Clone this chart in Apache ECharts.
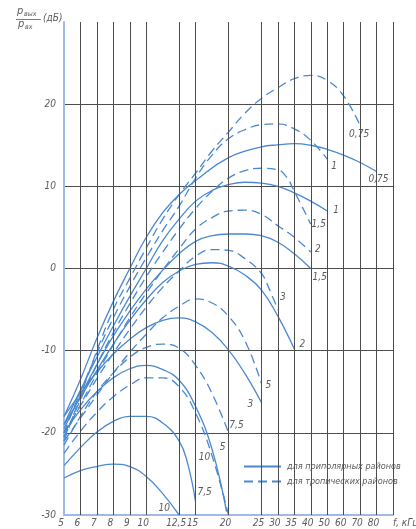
<!DOCTYPE html>
<html><head><meta charset="utf-8">
<script src="https://cdn.jsdelivr.net/npm/echarts@6/dist/echarts.min.js"></script>
<style>html,body{margin:0;padding:0;background:#fff}#c{width:416px;height:529px}</style>
</head><body><div id="c"></div><script>
// Frequency scale of the nomogram: tick frequencies (kHz) and the slot each one occupies
const freqTicks  = [5, 6, 7, 8, 9, 10, 12.5, 15, 20, 25, 30, 35, 40, 50, 60, 70, 80];
const tickSlots  = [0, 1, 2, 3, 4, 5, 7, 8, 10, 12, 13, 14, 15, 16, 17, 18, 19];
const freqLabels = ['5', '6', '7', '8', '9', '10', '12,5', '15', '20', '25', '30', '35', '40', '50', '60', '70', '80'];
const dbLabels   = [-30, -20, -10, 0, 10, 20];

// Gain curves, [f kHz, dB]; "polar" = solid, "tropic" = dashed
const polar075  = [[5,-18],[6,-13.5],[7,-8.5],[8,-4],[9,0],[10,3.8],[11.25,6.8],[12.5,9],[15,10.7],[20,13.5],[25,14.8],[30,15.05],[35,15.2],[40,15.0],[50,14.5],[60,13.8],[70,12.9],[80,11.8]];
const tropic075 = [[5,-21],[6,-15.5],[7,-10],[8,-5],[9,-1.2],[10,2.5],[11.25,6],[12.5,9],[15,11.6],[17.5,14.3],[20,16.6],[22.5,18.9],[25,20.7],[30,22],[35,23.1],[40,23.5],[50,22.9],[60,21],[70,17.4]];
const polar1    = [[5,-19],[6,-14.8],[7,-10.8],[8,-7],[9,-3.4],[10,0],[11.25,3.4],[12.5,6.0],[15,8.2],[17.5,9.5],[20,10.2],[22.5,10.5],[25,10.4],[30,10.0],[35,9.2],[40,8.2],[50,7.0]];
const tropic1   = [[5,-20],[6,-15],[7,-10.3],[8,-6],[9,-2.2],[10,1.3],[11.25,4.6],[12.5,7.6],[15,11],[17.5,13.8],[20,15.8],[22.5,16.9],[25,17.5],[30,17.6],[35,17.0],[40,15.6],[50,13.3]];
const polar15   = [[5,-19.5],[6,-15.5],[7,-11.7],[8,-8.2],[9,-5.2],[10,-2.5],[11.25,-0.2],[12.5,1.8],[15,3.3],[17.5,4.0],[20,4.2],[22.5,4.2],[25,4.0],[30,3.2],[35,1.8],[40,0]];
const tropic15  = [[5,-20.5],[6,-16],[7,-11.7],[8,-7.8],[9,-4.3],[10,-1],[11.25,2],[12.5,4.8],[15,7.3],[17.5,9.4],[20,11],[22.5,11.9],[25,12.2],[30,12.0],[32.5,11.2],[35,9.4],[40,5.4]];
const polar2    = [[5,-19],[6,-15.7],[7,-12.4],[8,-9.2],[9,-6.3],[10,-3.8],[11.25,-1.7],[12.5,-0.3],[15,0.5],[17.5,0.7],[20,0.3],[22.5,-0.8],[25,-2.6],[30,-5.8],[35,-9.8]];
const tropic2   = [[5,-20.5],[6,-16.6],[7,-12.8],[8,-9.3],[9,-6],[10,-3],[11.25,-0.2],[12.5,2.4],[15,4.8],[17.5,6.2],[20,7.0],[22.5,7.1],[25,6.6],[30,5.2],[35,3.8],[40,2.0]];
const polar3    = [[5,-18],[6,-15.2],[7,-12.6],[8,-10.4],[9,-8.6],[10,-7.2],[11.25,-6.3],[12.5,-6.0],[15,-6.5],[17.5,-7.8],[20,-9.9],[22.5,-12.8],[25,-16.3]];
const tropic3   = [[5,-20],[6,-16.7],[7,-13.4],[8,-10.3],[9,-7.4],[10,-4.7],[11.25,-2.3],[12.5,-0.3],[15,1.5],[17.5,2.3],[20,2.2],[22.5,1.2],[25,-0.6],[27.5,-2.6],[30,-5.0]];
const polar5    = [[5,-20],[6,-17.2],[7,-15],[8,-13.3],[9,-12.2],[10,-11.8],[11.25,-12.3],[12.5,-13.6],[15,-16.8],[17.5,-22],[19.7,-29.6]];
const tropic5   = [[5,-21],[6,-18.2],[7,-15.4],[8,-12.7],[9,-10.2],[10,-8],[11.25,-6],[12.5,-4.6],[15,-3.7],[17.5,-4.2],[20,-5.8],[22.5,-8.8],[25,-14]];
const polar75   = [[5,-24],[6,-21.8],[7,-19.9],[8,-18.6],[9,-18.0],[10,-18.0],[11.25,-18.8],[12.5,-21.0],[13.75,-23.6],[15,-28.4]];
const tropic75  = [[5,-21.5],[6,-18],[7,-15],[8,-12.7],[9,-10.8],[10,-9.6],[11.25,-9.2],[12.5,-9.7],[15,-11.8],[17.5,-15.2],[20,-20]];
const polar10   = [[5,-25.5],[6,-24.6],[7,-24.1],[8,-23.8],[9,-24.1],[10,-25.3],[11.25,-27.4],[12.5,-30]];
const tropic10  = [[5,-22.5],[6,-19.8],[7,-17.5],[8,-15.6],[9,-14.2],[10,-13.3],[11.25,-13.3],[12.5,-14.4],[15,-17.6],[17.5,-22.8],[20,-30]];

const POLAR = 'для приполярных районов';
const TROPIC = 'для тропических районов';

// curve table: data, dashed?, tag text, tag offset from the curve end (px)
const curves = [
  [polar075,  false, '0,75', [2, 8]],
  [tropic075, true,  '0,75', [-1, 9]],
  [polar1,    false, '1',    [9, -1]],
  [tropic1,   true,  '1',    [7, 7]],
  [polar15,   false, '1,5',  [9, 9]],
  [tropic15,  true,  '1,5',  [8, 0]],
  [polar2,    false, '2',    [8, -5]],
  [tropic2,   true,  '2',    [7, -3]],
  [polar3,    false, '3',    [-11, 2]],
  [tropic3,   true,  '3',    [5, -12]],
  [polar5,    false, '5',    [-4, -64]],
  [tropic5,   true,  '5',    [7, 2]],
  [polar75,   false, '7,5',  [9, -9]],
  [tropic75,  true,  '7,5',  [8, -7]],
  [polar10,   false, '10',   [-15, -7]],
  [tropic10,  true,  '10',   [-24, -58]]
];

function slotOf(f) {
  for (let i = 1; i < freqTicks.length; i++) {
    if (f <= freqTicks[i]) {
      const t = (f - freqTicks[i - 1]) / (freqTicks[i] - freqTicks[i - 1]);
      return tickSlots[i - 1] + t * (tickSlots[i] - tickSlots[i - 1]);
    }
  }
  return tickSlots[tickSlots.length - 1];
}

const CURVE = '#4a88d0';
const GRID = '#4d4d4d';
const AXIS = '#9dbbe6';
const TXT = '#5a5a5a';
const FONT = "'Liberation Sans Narrow', 'DejaVu Sans Condensed', 'Liberation Sans', sans-serif";

const series = curves.map(([pts, dashed, tag, off]) => ({
  type: 'line',
  name: dashed ? TROPIC : POLAR,
  data: pts.map(([f, d]) => [slotOf(f), d]),
  smooth: 0.45,
  symbol: 'none',
  lineStyle: { color: CURVE, width: 1.3, type: dashed ? [9, 5] : 'solid' },
  itemStyle: { color: CURVE },
  endLabel: {
    show: true, formatter: tag, offset: off, distance: 0,
    align: 'center', verticalAlign: 'middle',
    color: TXT, fontStyle: 'italic', fontSize: 10, fontFamily: FONT
  },
  z: 3
}));

// vertical grid lines at every frequency tick plus the right frame
const vLines = tickSlots.slice(1).concat([20]);
series.push({
  type: 'line', name: 'grid', data: [], silent: true, z: 1,
  markLine: {
    silent: true, symbol: 'none', label: { show: false },
    lineStyle: { color: GRID, width: 1, type: 'solid' },
    data: vLines.map(s => ({ xAxis: s }))
  }
});

const chart = echarts.init(document.getElementById('c'), null, { renderer: 'canvas' });
chart.setOption({
  animation: false,
  backgroundColor: '#fff',
  grid: { left: 64, right: 23, top: 22, bottom: 14, outerBoundsMode: 'none', containLabel: false },
  xAxis: {
    type: 'value', min: 0, max: 20, interval: 1,
    name: 'f, кГц', nameLocation: 'end', nameGap: 0,
    nameTextStyle: { color: TXT, fontStyle: 'italic', fontSize: 10, fontFamily: FONT,
                     align: 'left', verticalAlign: 'top', padding: [3, 0, 0, 0] },
    axisLine: { onZero: false, lineStyle: { color: AXIS, width: 2 } },
    axisTick: { show: false },
    splitLine: { show: false },
    axisLabel: {
      margin: 3, color: TXT, fontStyle: 'italic', fontSize: 10, fontFamily: FONT,
      padding: [0, 6, 0, 0],
      formatter: v => { const i = tickSlots.indexOf(v); return i >= 0 ? freqLabels[i] : ''; }
    }
  },
  yAxis: {
    type: 'value', min: -30, max: 30, interval: 10,
    axisLine: { show: true, lineStyle: { color: AXIS, width: 2 } },
    axisTick: { show: false },
    splitLine: { show: true, showMaxLine: false, lineStyle: { color: GRID, width: 1 } },
    axisLabel: {
      margin: 8, color: TXT, fontStyle: 'italic', fontSize: 10, fontFamily: FONT,
      formatter: v => dbLabels.indexOf(v) >= 0 ? String(v) : ''
    }
  },
  legend: {
    data: [POLAR, TROPIC], orient: 'vertical', left: 243, top: 462, padding: 0,
    itemWidth: 37, itemHeight: 10, itemGap: 6,
    itemStyle: { opacity: 0 },
    textStyle: { color: TXT, fontStyle: 'italic', fontSize: 9, fontFamily: FONT,
                 backgroundColor: '#fff', padding: [0, 1] }
  },
  graphic: [
    { type: 'text', left: 17, top: 6, style: { text: 'p', font: 'italic 11px ' + FONT, fill: TXT } },
    { type: 'text', left: 24, top: 11, style: { text: 'вых', font: 'italic 7px ' + FONT, fill: TXT } },
    { type: 'line', shape: { x1: 16, y1: 19.5, x2: 41, y2: 19.5 }, style: { stroke: TXT, lineWidth: 0.8 } },
    { type: 'text', left: 18, top: 19, style: { text: 'p', font: 'italic 11px ' + FONT, fill: TXT } },
    { type: 'text', left: 25, top: 24, style: { text: 'вх', font: 'italic 7px ' + FONT, fill: TXT } },
    { type: 'text', left: 43, top: 13, style: { text: '(дБ)', font: 'italic 10px ' + FONT, fill: TXT } }
  ],
  series
});
</script></body></html>
